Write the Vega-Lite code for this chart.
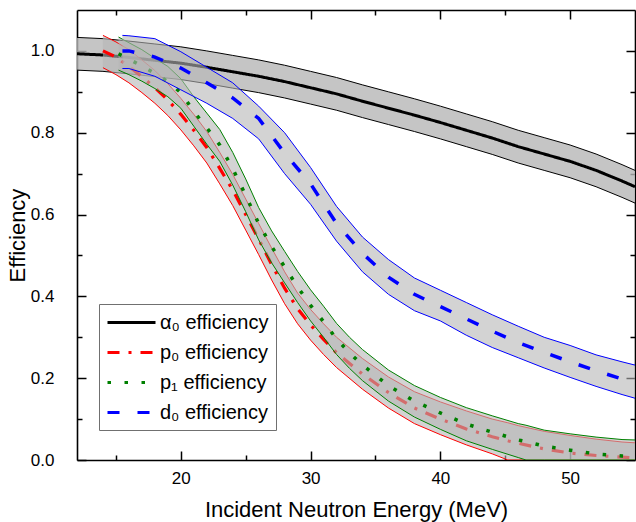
{
  "$schema": "https://vega.github.io/schema/vega-lite/v6.json",
  "width": 558,
  "height": 450,
  "autosize": {"type": "none"},
  "padding": {"left": 77, "top": 10, "right": 1, "bottom": 62},
  "background": "white",
  "config": {
    "view": {"stroke": null},
    "font": "Liberation Sans",
    "axis": {
      "grid": false,
      "domainColor": "black",
      "domainWidth": 1.6,
      "tickColor": "black",
      "tickWidth": 1.5,
      "labelColor": "black",
      "titleColor": "black",
      "labelFont": "Liberation Sans",
      "titleFont": "Liberation Sans",
      "labelFontSize": 17,
      "titleFontSize": 22,
      "titleFontWeight": "normal",
      "labelOverlap": false,
      "labelFlush": false,
      "zindex": 1
    }
  },
  "data": {
    "values": [
      {"s": "a0", "E": 12, "c": 0.993, "lo": 0.953, "hi": 1.033},
      {"s": "a0", "E": 14, "c": 0.990, "lo": 0.950, "hi": 1.030},
      {"s": "a0", "E": 16, "c": 0.984, "lo": 0.944, "hi": 1.024},
      {"s": "a0", "E": 18, "c": 0.977, "lo": 0.937, "hi": 1.017},
      {"s": "a0", "E": 20, "c": 0.970, "lo": 0.930, "hi": 1.010},
      {"s": "a0", "E": 22, "c": 0.960, "lo": 0.920, "hi": 1.000},
      {"s": "a0", "E": 24, "c": 0.949, "lo": 0.909, "hi": 0.989},
      {"s": "a0", "E": 26, "c": 0.938, "lo": 0.898, "hi": 0.978},
      {"s": "a0", "E": 28, "c": 0.925, "lo": 0.885, "hi": 0.965},
      {"s": "a0", "E": 30, "c": 0.910, "lo": 0.870, "hi": 0.950},
      {"s": "a0", "E": 32, "c": 0.895, "lo": 0.855, "hi": 0.935},
      {"s": "a0", "E": 34, "c": 0.877, "lo": 0.837, "hi": 0.917},
      {"s": "a0", "E": 36, "c": 0.860, "lo": 0.820, "hi": 0.900},
      {"s": "a0", "E": 38, "c": 0.843, "lo": 0.803, "hi": 0.883},
      {"s": "a0", "E": 40, "c": 0.825, "lo": 0.785, "hi": 0.865},
      {"s": "a0", "E": 42, "c": 0.806, "lo": 0.766, "hi": 0.846},
      {"s": "a0", "E": 44, "c": 0.787, "lo": 0.747, "hi": 0.827},
      {"s": "a0", "E": 46, "c": 0.766, "lo": 0.726, "hi": 0.806},
      {"s": "a0", "E": 48, "c": 0.748, "lo": 0.708, "hi": 0.788},
      {"s": "a0", "E": 50, "c": 0.730, "lo": 0.690, "hi": 0.770},
      {"s": "a0", "E": 52, "c": 0.708, "lo": 0.668, "hi": 0.748},
      {"s": "a0", "E": 54, "c": 0.682, "lo": 0.642, "hi": 0.722},
      {"s": "a0", "E": 55, "c": 0.668, "lo": 0.628, "hi": 0.708},

      {"s": "p0", "E": 14, "c": 1.000, "lo": 0.959, "hi": 1.038},
      {"s": "p0", "E": 15, "c": 0.985, "lo": 0.942, "hi": 1.022},
      {"s": "p0", "E": 16, "c": 0.962, "lo": 0.922, "hi": 1.003},
      {"s": "p0", "E": 17, "c": 0.937, "lo": 0.898, "hi": 0.978},
      {"s": "p0", "E": 18, "c": 0.910, "lo": 0.872, "hi": 0.952},
      {"s": "p0", "E": 19, "c": 0.880, "lo": 0.842, "hi": 0.920},
      {"s": "p0", "E": 20, "c": 0.845, "lo": 0.807, "hi": 0.884},
      {"s": "p0", "E": 21, "c": 0.806, "lo": 0.768, "hi": 0.845},
      {"s": "p0", "E": 22, "c": 0.764, "lo": 0.726, "hi": 0.803},
      {"s": "p0", "E": 23, "c": 0.713, "lo": 0.675, "hi": 0.752},
      {"s": "p0", "E": 24, "c": 0.660, "lo": 0.622, "hi": 0.698},
      {"s": "p0", "E": 25, "c": 0.600, "lo": 0.562, "hi": 0.638},
      {"s": "p0", "E": 26, "c": 0.540, "lo": 0.502, "hi": 0.578},
      {"s": "p0", "E": 27, "c": 0.478, "lo": 0.440, "hi": 0.518},
      {"s": "p0", "E": 28, "c": 0.420, "lo": 0.382, "hi": 0.460},
      {"s": "p0", "E": 29, "c": 0.370, "lo": 0.333, "hi": 0.408},
      {"s": "p0", "E": 30, "c": 0.330, "lo": 0.293, "hi": 0.368},
      {"s": "p0", "E": 31, "c": 0.295, "lo": 0.258, "hi": 0.333},
      {"s": "p0", "E": 32, "c": 0.262, "lo": 0.226, "hi": 0.300},
      {"s": "p0", "E": 34, "c": 0.210, "lo": 0.173, "hi": 0.248},
      {"s": "p0", "E": 36, "c": 0.165, "lo": 0.127, "hi": 0.203},
      {"s": "p0", "E": 38, "c": 0.127, "lo": 0.089, "hi": 0.167},
      {"s": "p0", "E": 40, "c": 0.100, "lo": 0.062, "hi": 0.142},
      {"s": "p0", "E": 42, "c": 0.076, "lo": 0.037, "hi": 0.120},
      {"s": "p0", "E": 44, "c": 0.057, "lo": 0.015, "hi": 0.100},
      {"s": "p0", "E": 45.2, "c": 0.047, "lo": 0.0, "hi": 0.091},
      {"s": "p0", "E": 46, "c": 0.041, "lo": 0.0, "hi": 0.084},
      {"s": "p0", "E": 48, "c": 0.027, "lo": 0.0, "hi": 0.070},
      {"s": "p0", "E": 50, "c": 0.017, "lo": 0.0, "hi": 0.060},
      {"s": "p0", "E": 52, "c": 0.011, "lo": 0.0, "hi": 0.051},
      {"s": "p0", "E": 54, "c": 0.007, "lo": 0.0, "hi": 0.044},
      {"s": "p0", "E": 55, "c": 0.005, "lo": 0.0, "hi": 0.042},

      {"s": "p1", "E": 15.2, "c": 0.993, "lo": 0.953, "hi": 1.034},
      {"s": "p1", "E": 16, "c": 0.980, "lo": 0.942, "hi": 1.020},
      {"s": "p1", "E": 17, "c": 0.963, "lo": 0.926, "hi": 1.003},
      {"s": "p1", "E": 18, "c": 0.945, "lo": 0.908, "hi": 0.982},
      {"s": "p1", "E": 19, "c": 0.925, "lo": 0.888, "hi": 0.962},
      {"s": "p1", "E": 20, "c": 0.898, "lo": 0.860, "hi": 0.932},
      {"s": "p1", "E": 21, "c": 0.852, "lo": 0.816, "hi": 0.888},
      {"s": "p1", "E": 22, "c": 0.812, "lo": 0.772, "hi": 0.848},
      {"s": "p1", "E": 23, "c": 0.770, "lo": 0.730, "hi": 0.808},
      {"s": "p1", "E": 24, "c": 0.712, "lo": 0.672, "hi": 0.752},
      {"s": "p1", "E": 25, "c": 0.647, "lo": 0.607, "hi": 0.687},
      {"s": "p1", "E": 26, "c": 0.578, "lo": 0.538, "hi": 0.617},
      {"s": "p1", "E": 27, "c": 0.522, "lo": 0.482, "hi": 0.560},
      {"s": "p1", "E": 28, "c": 0.472, "lo": 0.433, "hi": 0.510},
      {"s": "p1", "E": 29, "c": 0.423, "lo": 0.385, "hi": 0.461},
      {"s": "p1", "E": 30, "c": 0.378, "lo": 0.340, "hi": 0.416},
      {"s": "p1", "E": 31, "c": 0.338, "lo": 0.300, "hi": 0.376},
      {"s": "p1", "E": 32, "c": 0.296, "lo": 0.258, "hi": 0.334},
      {"s": "p1", "E": 33, "c": 0.262, "lo": 0.224, "hi": 0.300},
      {"s": "p1", "E": 34, "c": 0.232, "lo": 0.194, "hi": 0.270},
      {"s": "p1", "E": 36, "c": 0.182, "lo": 0.144, "hi": 0.220},
      {"s": "p1", "E": 38, "c": 0.144, "lo": 0.105, "hi": 0.182},
      {"s": "p1", "E": 40, "c": 0.115, "lo": 0.075, "hi": 0.153},
      {"s": "p1", "E": 42, "c": 0.088, "lo": 0.047, "hi": 0.128},
      {"s": "p1", "E": 44, "c": 0.068, "lo": 0.026, "hi": 0.108},
      {"s": "p1", "E": 46, "c": 0.049, "lo": 0.006, "hi": 0.089},
      {"s": "p1", "E": 46.6, "c": 0.045, "lo": 0.0, "hi": 0.085},
      {"s": "p1", "E": 48, "c": 0.034, "lo": 0.0, "hi": 0.073},
      {"s": "p1", "E": 50, "c": 0.024, "lo": 0.0, "hi": 0.064},
      {"s": "p1", "E": 52, "c": 0.015, "lo": 0.0, "hi": 0.056},
      {"s": "p1", "E": 54, "c": 0.010, "lo": 0.0, "hi": 0.050},
      {"s": "p1", "E": 55, "c": 0.009, "lo": 0.0, "hi": 0.049},

      {"s": "d0", "E": 15.5, "c": 1.000, "lo": 0.957, "hi": 1.038},
      {"s": "d0", "E": 16, "c": 1.000, "lo": 0.957, "hi": 1.037},
      {"s": "d0", "E": 18, "c": 0.985, "lo": 0.938, "hi": 1.030},
      {"s": "d0", "E": 20, "c": 0.958, "lo": 0.905, "hi": 0.998},
      {"s": "d0", "E": 22, "c": 0.922, "lo": 0.872, "hi": 0.960},
      {"s": "d0", "E": 24, "c": 0.885, "lo": 0.835, "hi": 0.922},
      {"s": "d0", "E": 26, "c": 0.835, "lo": 0.785, "hi": 0.865},
      {"s": "d0", "E": 28, "c": 0.750, "lo": 0.700, "hi": 0.800},
      {"s": "d0", "E": 30, "c": 0.675, "lo": 0.625, "hi": 0.715},
      {"s": "d0", "E": 32, "c": 0.578, "lo": 0.535, "hi": 0.620},
      {"s": "d0", "E": 34, "c": 0.505, "lo": 0.460, "hi": 0.545},
      {"s": "d0", "E": 36, "c": 0.447, "lo": 0.405, "hi": 0.490},
      {"s": "d0", "E": 38, "c": 0.405, "lo": 0.365, "hi": 0.445},
      {"s": "d0", "E": 40, "c": 0.375, "lo": 0.340, "hi": 0.415},
      {"s": "d0", "E": 42, "c": 0.345, "lo": 0.305, "hi": 0.385},
      {"s": "d0", "E": 44, "c": 0.315, "lo": 0.275, "hi": 0.355},
      {"s": "d0", "E": 46, "c": 0.287, "lo": 0.250, "hi": 0.327},
      {"s": "d0", "E": 48, "c": 0.263, "lo": 0.225, "hi": 0.300},
      {"s": "d0", "E": 50, "c": 0.240, "lo": 0.202, "hi": 0.280},
      {"s": "d0", "E": 52, "c": 0.218, "lo": 0.180, "hi": 0.257},
      {"s": "d0", "E": 54, "c": 0.198, "lo": 0.160, "hi": 0.240},
      {"s": "d0", "E": 55, "c": 0.188, "lo": 0.151, "hi": 0.232}
    ]
  },
  "encoding": {
    "x": {"field": "E", "type": "quantitative", "scale": {"domain": [12, 55], "nice": false, "zero": false}, "axis": null}
  },
  "layer": [
    {
      "mark": {"type": "point", "opacity": 0, "size": 1},
      "encoding": {
        "x": {"field": "E", "type": "quantitative", "scale": {"domain": [12, 55], "nice": false, "zero": false},
          "axis": {"orient": "bottom", "title": "Incident Neutron Energy (MeV)", "values": [15, 20, 25, 30, 35, 40, 45, 50],
            "labelExpr": "datum.value % 10 == 0 ? datum.label : ''", "format": "d",
            "tickSize": {"condition": {"test": "datum.value % 10 != 0", "value": -5}, "value": -9},
            "labelPadding": 19, "titlePadding": 9}},
        "y": {"field": "c", "type": "quantitative", "scale": {"domain": [0, 1.1], "nice": false, "zero": false},
          "axis": {"orient": "left", "title": "Efficiency", "values": [0, 0.1, 0.2, 0.3, 0.4, 0.5, 0.6, 0.7, 0.8, 0.9, 1.0],
            "labelExpr": "round(datum.value*10) % 2 == 0 ? format(datum.value, '.1f') : ''",
            "tickSize": {"condition": {"test": "round(datum.value*10) % 2 == 1", "value": -5}, "value": -9},
            "labelPadding": 32, "titlePadding": 1}}
      }
    },
    {
      "transform": [{"filter": {"field": "s", "equal": "a0"}}],
      "mark": {"type": "area", "color": "#b6b6b6", "opacity": 0.8, "clip": true},
      "encoding": {
        "y": {"field": "lo", "type": "quantitative", "scale": {"domain": [0, 1.1], "nice": false, "zero": false}, "axis": null},
        "y2": {"field": "hi"}
      }
    },
    {
      "transform": [{"filter": {"field": "s", "equal": "a0"}}, {"fold": ["lo", "hi"], "as": ["k", "v"]}],
      "mark": {"type": "line", "color": "#000000", "strokeWidth": 1, "clip": true},
      "encoding": {
        "y": {"field": "v", "type": "quantitative", "scale": {"domain": [0, 1.1], "nice": false, "zero": false}, "axis": null},
        "detail": {"field": "k"}
      }
    },
    {
      "transform": [{"filter": {"field": "s", "equal": "a0"}}],
      "mark": {"type": "line", "strokeWidth": 3, "clip": true},
      "encoding": {
        "y": {"field": "c", "type": "quantitative", "scale": {"domain": [0, 1.1], "nice": false, "zero": false}, "axis": null},
        "color": {"field": "s", "type": "nominal", "scale": {"domain": ["a0", "p0", "p1", "d0"], "range": ["#000000", "#ff0000", "#008000", "#0000ff"]},
          "legend": {"title": null, "orient": "none", "legendX": 22, "legendY": 294, "fillColor": "white", "strokeColor": "#707070", "padding": 7,
            "labelFontSize": 20, "labelFont": "Liberation Sans", "labelColor": "black", "symbolType": "M-1,0H3.8", "symbolSize": 400, "symbolStrokeWidth": 3,
            "labelOffset": 31, "rowPadding": 8,
            "labelExpr": "datum.value == 'a0' ? 'α₀ efficiency' : datum.value == 'p0' ? 'p₀ efficiency' : datum.value == 'p1' ? 'p₁ efficiency' : 'd₀ efficiency'"}},
        "strokeDash": {"field": "s", "type": "nominal", "scale": {"domain": ["a0", "p0", "p1", "d0"], "range": [[1, 0], [12, 9, 3, 9], [3.5, 13.5], [12, 18]]},
          "legend": {"title": null, "orient": "none", "legendX": 22, "legendY": 294, "fillColor": "white", "strokeColor": "#707070", "padding": 7,
            "labelFontSize": 20, "labelFont": "Liberation Sans", "labelColor": "black", "symbolType": "M-1,0H3.8", "symbolSize": 400, "symbolStrokeWidth": 3,
            "labelOffset": 31, "rowPadding": 8,
            "labelExpr": "datum.value == 'a0' ? 'α₀ efficiency' : datum.value == 'p0' ? 'p₀ efficiency' : datum.value == 'p1' ? 'p₁ efficiency' : 'd₀ efficiency'"}}
      }
    },
    {
      "transform": [{"filter": {"field": "s", "equal": "p0"}}],
      "mark": {"type": "area", "color": "#b6b6b6", "opacity": 0.6, "clip": true},
      "encoding": {
        "y": {"field": "lo", "type": "quantitative", "scale": {"domain": [0, 1.1], "nice": false, "zero": false}, "axis": null},
        "y2": {"field": "hi"}
      }
    },
    {
      "transform": [{"filter": {"field": "s", "equal": "p0"}}, {"fold": ["lo", "hi"], "as": ["k", "v"]}],
      "mark": {"type": "line", "color": "#ff0000", "strokeWidth": 1, "clip": true},
      "encoding": {
        "y": {"field": "v", "type": "quantitative", "scale": {"domain": [0, 1.1], "nice": false, "zero": false}, "axis": null},
        "detail": {"field": "k"}
      }
    },
    {
      "transform": [{"filter": {"field": "s", "equal": "p0"}}],
      "mark": {"type": "line", "strokeWidth": 3.2, "clip": true},
      "encoding": {
        "y": {"field": "c", "type": "quantitative", "scale": {"domain": [0, 1.1], "nice": false, "zero": false}, "axis": null},
        "color": {"field": "s", "type": "nominal", "scale": {"domain": ["a0", "p0", "p1", "d0"], "range": ["#000000", "#ff0000", "#008000", "#0000ff"]}},
        "strokeDash": {"field": "s", "type": "nominal", "scale": {"domain": ["a0", "p0", "p1", "d0"], "range": [[1, 0], [12, 9, 3, 9], [3.5, 13.5], [12, 18]]}}
      }
    },
    {
      "transform": [{"filter": {"field": "s", "equal": "p1"}}],
      "mark": {"type": "area", "color": "#b6b6b6", "opacity": 0.6, "clip": true},
      "encoding": {
        "y": {"field": "lo", "type": "quantitative", "scale": {"domain": [0, 1.1], "nice": false, "zero": false}, "axis": null},
        "y2": {"field": "hi"}
      }
    },
    {
      "transform": [{"filter": {"field": "s", "equal": "p1"}}, {"fold": ["lo", "hi"], "as": ["k", "v"]}],
      "mark": {"type": "line", "color": "#008000", "strokeWidth": 1, "clip": true},
      "encoding": {
        "y": {"field": "v", "type": "quantitative", "scale": {"domain": [0, 1.1], "nice": false, "zero": false}, "axis": null},
        "detail": {"field": "k"}
      }
    },
    {
      "transform": [{"filter": {"field": "s", "equal": "p1"}}],
      "mark": {"type": "line", "strokeWidth": 3.5, "clip": true},
      "encoding": {
        "y": {"field": "c", "type": "quantitative", "scale": {"domain": [0, 1.1], "nice": false, "zero": false}, "axis": null},
        "color": {"field": "s", "type": "nominal", "scale": {"domain": ["a0", "p0", "p1", "d0"], "range": ["#000000", "#ff0000", "#008000", "#0000ff"]}},
        "strokeDash": {"field": "s", "type": "nominal", "scale": {"domain": ["a0", "p0", "p1", "d0"], "range": [[1, 0], [12, 9, 3, 9], [3.5, 13.5], [12, 18]]}}
      }
    },
    {
      "transform": [{"filter": {"field": "s", "equal": "d0"}}],
      "mark": {"type": "area", "color": "#b6b6b6", "opacity": 0.6, "clip": true},
      "encoding": {
        "y": {"field": "lo", "type": "quantitative", "scale": {"domain": [0, 1.1], "nice": false, "zero": false}, "axis": null},
        "y2": {"field": "hi"}
      }
    },
    {
      "transform": [{"filter": {"field": "s", "equal": "d0"}}, {"fold": ["lo", "hi"], "as": ["k", "v"]}],
      "mark": {"type": "line", "color": "#0000ff", "strokeWidth": 1, "clip": true},
      "encoding": {
        "y": {"field": "v", "type": "quantitative", "scale": {"domain": [0, 1.1], "nice": false, "zero": false}, "axis": null},
        "detail": {"field": "k"}
      }
    },
    {
      "transform": [{"filter": {"field": "s", "equal": "d0"}}],
      "mark": {"type": "line", "strokeWidth": 3.5, "clip": true},
      "encoding": {
        "y": {"field": "c", "type": "quantitative", "scale": {"domain": [0, 1.1], "nice": false, "zero": false}, "axis": null},
        "color": {"field": "s", "type": "nominal", "scale": {"domain": ["a0", "p0", "p1", "d0"], "range": ["#000000", "#ff0000", "#008000", "#0000ff"]}},
        "strokeDash": {"field": "s", "type": "nominal", "scale": {"domain": ["a0", "p0", "p1", "d0"], "range": [[1, 0], [12, 9, 3, 9], [3.5, 13.5], [12, 18]]}}
      }
    },
    {
      "mark": {"type": "point", "opacity": 0, "size": 1},
      "encoding": {
        "x": {"field": "E", "type": "quantitative", "scale": {"domain": [12, 55], "nice": false, "zero": false},
          "axis": {"orient": "top", "title": null, "labels": false, "values": [15, 20, 25, 30, 35, 40, 45, 50],
            "tickSize": {"condition": {"test": "datum.value % 10 != 0", "value": -5}, "value": -9}}},
        "y": {"field": "c", "type": "quantitative", "scale": {"domain": [0, 1.1], "nice": false, "zero": false},
          "axis": {"orient": "right", "title": null, "labels": false, "values": [0, 0.1, 0.2, 0.3, 0.4, 0.5, 0.6, 0.7, 0.8, 0.9, 1.0],
            "tickSize": {"condition": {"test": "round(datum.value*10) % 2 == 1", "value": -5}, "value": -9}}}
      }
    }
  ],
  "resolve": {"axis": {"x": "independent", "y": "independent"}}
}
